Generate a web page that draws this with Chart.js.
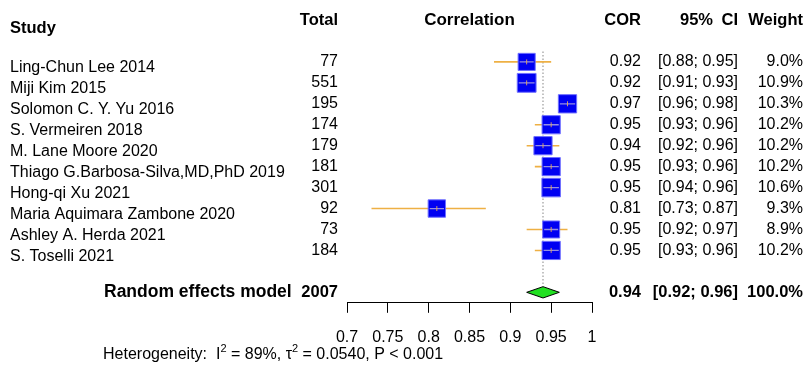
<!DOCTYPE html>
<html>
<head>
<meta charset="utf-8">
<script src="https://cdn.jsdelivr.net/npm/chart.js@4"></script>
<style>
  body { margin: 0; background: #fff; }
  #wrap { width: 808px; height: 365px; }
</style>
</head>
<body>
<div id="wrap"><canvas id="forest"></canvas></div>
<script>
// study data
const studies = [
  "Ling-Chun Lee 2014",
  "Miji Kim 2015",
  "Solomon C. Y. Yu 2016",
  "S. Vermeiren 2018",
  "M. Lane Moore 2020",
  "Thiago G.Barbosa-Silva,MD,PhD 2019",
  "Hong-qi Xu 2021",
  "Maria Aquimara Zambone 2020",
  "Ashley A. Herda 2021",
  "S. Toselli 2021"
];
const totals = [77, 551, 195, 174, 179, 181, 301, 92, 73, 184];
const cor = [0.92, 0.92, 0.97, 0.95, 0.94, 0.95, 0.95, 0.81, 0.95, 0.95];
const lower = [0.88, 0.91, 0.96, 0.93, 0.92, 0.93, 0.94, 0.73, 0.92, 0.93];
const upper = [0.95, 0.93, 0.98, 0.96, 0.96, 0.96, 0.96, 0.87, 0.97, 0.96];
const weights = [9.0, 10.9, 10.3, 10.2, 10.2, 10.2, 10.6, 9.3, 8.9, 10.2];

const pooled = { total: 2007, cor: 0.94, lower: 0.92, upper: 0.96, weight: 100.0 };
const xTicks = [0.7, 0.75, 0.8, 0.85, 0.9, 0.95, 1];
const tickLabels = ["0.7", "0.75", "0.8", "0.85", "0.9", "0.95", "1"];

const rows = studies.map((s, i) => i);
const pooledRow = studies.length + 1;
const FONT = "'Liberation Sans', Arial, sans-serif";

// box size follows the weight (area ~ weight)
const boxSide = weights.map(w => 5.7 * Math.sqrt(w));

const datasets = [];

// confidence interval lines
rows.forEach(i => {
  datasets.push({
    type: "line",
    data: [{ x: lower[i], y: i }, { x: upper[i], y: i }],
    borderColor: "#EEB044",
    borderWidth: 1.6,
    pointRadius: 0,
    order: 6
  });
});

// dotted line at the pooled estimate
datasets.push({
  type: "line",
  data: [{ x: pooled.cor, y: -0.5 }, { x: pooled.cor, y: pooledRow - 0.4 }],
  borderColor: "#9a9a9a",
  borderWidth: 1.2,
  borderDash: [1.5, 2],
  pointRadius: 0,
  order: 7
});

// the boxes
datasets.push({
  type: "scatter",
  data: rows.map(i => ({ x: cor[i], y: i })),
  pointStyle: "rect",
  pointRadius: boxSide.map(s => s / Math.SQRT2),
  backgroundColor: "#0000F2",
  borderColor: "#6f6fff",
  borderWidth: 1,
  order: 5
});

// lighter line inside the boxes
datasets.push({
  type: "scatter",
  data: rows.map(i => ({ x: cor[i], y: i })),
  pointStyle: "line",
  pointRadius: boxSide.map(s => s / 2 - 1.5),
  borderColor: "rgba(200,190,220,0.75)",
  borderWidth: 1.3,
  order: 4
});

// small vertical mark at the estimate
datasets.push({
  type: "scatter",
  data: rows.map(i => ({ x: cor[i], y: i })),
  pointStyle: "line",
  rotation: 90,
  pointRadius: 2.5,
  borderColor: "rgba(230,170,90,0.9)",
  borderWidth: 1,
  order: 3
});

// pooled diamond
const dh = 0.27;
datasets.push({
  type: "line",
  data: [
    { x: pooled.lower, y: pooledRow },
    { x: pooled.cor, y: pooledRow - dh },
    { x: pooled.upper, y: pooledRow },
    { x: pooled.cor, y: pooledRow + dh },
    { x: pooled.lower, y: pooledRow }
  ],
  borderColor: "#000",
  borderWidth: 1,
  backgroundColor: "#22E022",
  fill: "shape",
  pointRadius: 0,
  tension: 0,
  order: 1
});

const textPlugin = {
  id: "forestText",
  afterDraw(chart) {
    const ctx = chart.ctx;
    const y = chart.scales.y;
    const area = chart.chartArea;
    ctx.save();
    ctx.fillStyle = "#000";
    ctx.textBaseline = "middle";

    function txt(s, x, py, align, bold, size) {
      ctx.font = (bold ? "bold " : "") + (size || 16) + "px " + FONT;
      ctx.textAlign = align;
      ctx.fillText(s, x, py);
    }

    // headers
    const hy = y.getPixelForValue(-2);
    txt("Study", 10, hy + 8, "left", true, 16.5);
    txt("Total", 338, hy, "right", true, 16.5);
    txt("Correlation", (area.left + area.right) / 2, hy, "center", true, 17);
    txt("COR", 641, hy, "right", true, 16.5);
    txt("95%", 713, hy, "right", true, 16.5);
    txt("CI", 738, hy, "right", true, 16.5);
    txt("Weight", 803, hy, "right", true, 16.5);

    rows.forEach(i => {
      const py = y.getPixelForValue(i);
      txt(studies[i], 10, py + 6, "left");
      txt(String(totals[i]), 338, py, "right");
      txt(cor[i].toFixed(2), 641, py, "right");
      txt("[" + lower[i].toFixed(2) + "; " + upper[i].toFixed(2) + "]", 738, py, "right");
      txt(weights[i].toFixed(1) + "%", 803, py, "right");
    });

    const sy = y.getPixelForValue(pooledRow);
    txt("Random effects model", 104, sy, "left", true, 17.5);
    txt(String(pooled.total), 338, sy, "right", true, 16.5);
    txt(pooled.cor.toFixed(2), 641, sy, "right", true, 16.5);
    txt("[" + pooled.lower.toFixed(2) + "; " + pooled.upper.toFixed(2) + "]", 738, sy, "right", true, 16.5);
    txt(pooled.weight.toFixed(1) + "%", 803, sy, "right", true, 16.5);

    // heterogeneity line with superscripts
    const parts = [
      ["Heterogeneity:  I", false],
      ["2", true],
      [" = 89%, \u03C4", false],
      ["2", true],
      [" = 0.0540, P < 0.001", false]
    ];
    let x = 103;
    const ly = chart.height - 10;
    parts.forEach(p => {
      const size = p[1] ? 11 : 16;
      ctx.font = size + "px " + FONT;
      ctx.textAlign = "left";
      ctx.fillText(p[0], x, p[1] ? ly - 6 : ly);
      x += ctx.measureText(p[0]).width;
    });
    ctx.restore();
  }
};

new Chart(document.getElementById("forest"), {
  type: "scatter",
  data: { datasets },
  options: {
    responsive: true,
    maintainAspectRatio: false,
    animation: false,
    events: [],
    layout: { padding: { left: 347, right: 216, top: 20, bottom: 3 } },
    plugins: { legend: { display: false }, tooltip: { enabled: false } },
    scales: {
      x: {
        type: "linear",
        min: 0.7,
        max: 1,
        afterBuildTicks: s => { s.ticks = xTicks.map(v => ({ value: v })); },
        ticks: {
          callback: (v, i) => tickLabels[i],
          color: "#000",
          font: { family: FONT, size: 16 },
          padding: 15,
          maxRotation: 0,
          autoSkip: false
        },
        grid: { drawOnChartArea: false, drawTicks: true, tickLength: 10, color: "#000", lineWidth: 1 },
        border: { display: true, color: "#000", width: 1 }
      },
      y: {
        type: "linear",
        display: false,
        reverse: true,
        min: -2,
        max: 11.5
      }
    }
  },
  plugins: [textPlugin]
});
</script>
</body>
</html>
